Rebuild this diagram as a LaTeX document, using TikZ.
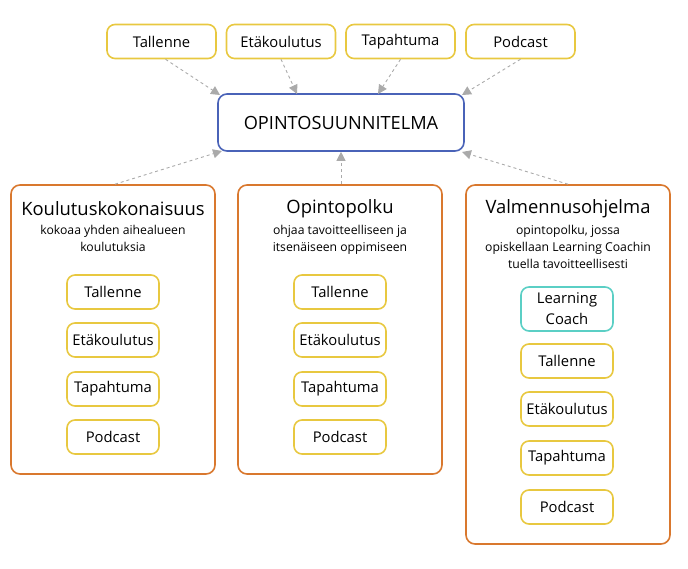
\documentclass[tikz,border=0pt]{standalone}
\usepackage{fontspec}
\setmainfont{Open Sans}
\usetikzlibrary{arrows.meta}
\definecolor{yel}{HTML}{E8C840}
\definecolor{ora}{HTML}{D9782E}
\definecolor{blu}{HTML}{4A63B8}
\definecolor{tea}{HTML}{5BCFC5}
\definecolor{gr}{HTML}{AAAAAA}
\begin{document}
\begin{tikzpicture}[x=1pt,y=-1pt,
 yb/.style={draw=yel,line width=1.6pt,rounded corners=8pt,minimum width=#1,minimum height=34pt,inner sep=0pt,font=\fontsize{14.8}{17}\selectfont},
 yb/.default=92pt,
 ob/.style={draw=ora,line width=1.6pt,rounded corners=9pt,minimum width=204pt,inner sep=0pt},
 ar/.style={draw=gr,dashed,line width=0.9pt,-{Triangle[length=9pt,width=9pt]}}]
\useasboundingbox (0,0) rectangle (688,569);
\node[yb=109pt] (t1) at (161.5,41.5) {Tallenne};
\node[yb=109pt] (t2) at (281,41.5) {Etäkoulutus};
\node[yb=109pt] (t3) at (400.5,41.5) {Tapahtuma};
\node[yb=109pt] (t4) at (520.5,41.5) {Podcast};
\node[draw=blu,line width=1.6pt,rounded corners=9pt,minimum width=246pt,minimum height=57pt,font=\fontsize{18.2}{21}\selectfont] (c) at (341,122.5) {OPINTOSUUNNITELMA};
\node[ob,minimum height=289pt] (L) at (113,329.5) {};
\node[ob,minimum height=289pt] (M) at (340,329.5) {};
\node[ob,minimum height=359pt] (R) at (568,364.5) {};
\foreach \n/\x/\t/\s in {L/113/Koulutuskokonaisuus/{kokoaa yhden aihealueen\\koulutuksia},M/340/Opintopolku/{ohjaa tavoitteelliseen ja\\itsenäiseen oppimiseen},R/568/Valmennusohjelma/{opintopolku, jossa\\opiskellaan Learning Coachin\\tuella tavoitteellisesti}}{
 \node[font=\fontsize{18.4}{21}\selectfont] (\n h) at (\x,209) {\t};
 \node[anchor=north,align=center,font=\fontsize{12.2}{17}\selectfont] (\n s) at (\x,222) {\s};
}
\foreach \n/\x in {L/113,M/340}{
 \node[yb] (\n1) at (\x,292) {Tallenne};
 \node[yb] (\n2) at (\x,340) {Etäkoulutus};
 \node[yb] (\n3) at (\x,389) {Tapahtuma};
 \node[yb] (\n4) at (\x,437) {Podcast};
}
\node[yb,draw=tea,minimum height=44pt,align=center,font=\fontsize{14.8}{21}\selectfont] (R0) at (567,309) {Learning\\Coach};
\node[yb] (R1) at (567,361) {Tallenne};
\node[yb] (R2) at (567,409) {Etäkoulutus};
\node[yb] (R3) at (567,458) {Tapahtuma};
\node[yb] (R4) at (567,507) {Podcast};
\draw[ar] (t1.south) ++(4,0) coordinate (a1) -- (220,95);
\draw[ar] (t2.south) -- (297,94);
\draw[ar] (t3.south) -- (378,94);
\draw[ar] (t4.south) -- (462,95);
\draw[ar] (L.north) ++(2,0) -- (222,151);
\draw[ar] (M.north) ++(1,0) -- (c.south);
\draw[ar] (R.north) -- (462,152);
\end{tikzpicture}
\end{document}
